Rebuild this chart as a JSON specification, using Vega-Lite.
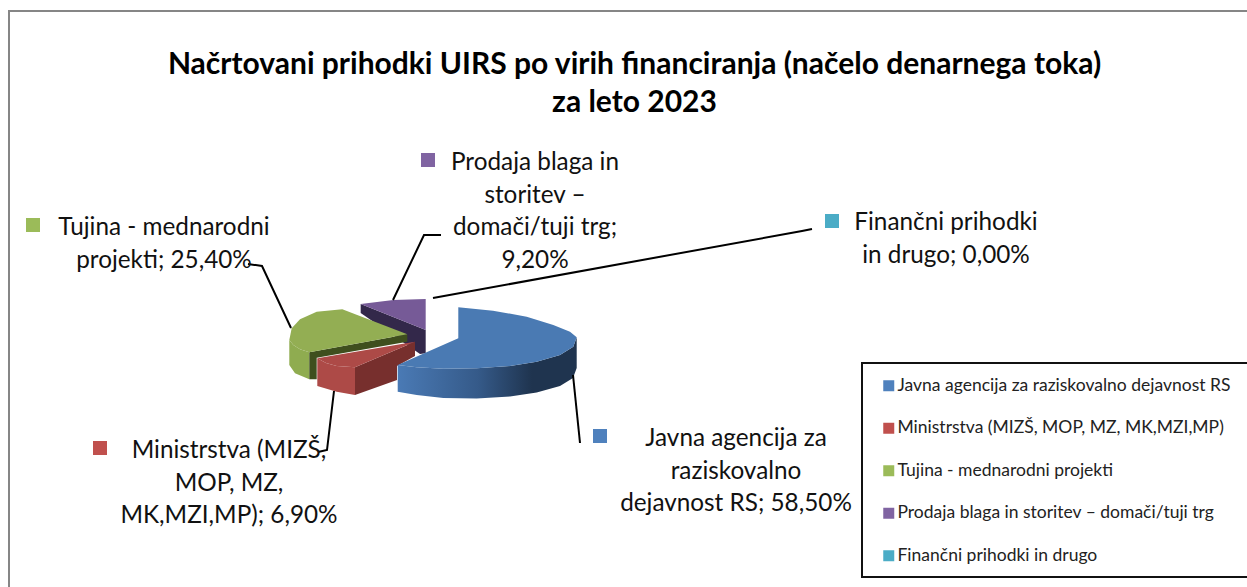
{
"$schema":"https://vega.github.io/schema/vega-lite/v6.json",
"width":1247,"height":587,"autosize":"none","padding":0,"background":"white",
"title":{"text":["Načrtovani prihodki UIRS po virih financiranja (načelo denarnega toka)","za leto 2023"],"font":"Lato","fontWeight":"bold","fontSize":30,"lineHeight":38,"color":"black","anchor":"middle","dx":11,"dy":118,"offset":0},
"config":{"view":{"stroke":null},"font":"Lato"},
"datasets":{
"slices":[
{"series":"Javna agencija za raziskovalno dejavnost RS","value":58.5,"label":"Javna agencija za\nraziskovalno\ndejavnost RS; 58,50%","labelX":736,"labelY":439,"keyX":600,"keyY":436},
{"series":"Ministrstva (MIZŠ, MOP, MZ, MK,MZI,MP)","value":6.9,"label":"Ministrstva (MIZŠ,\nMOP, MZ,\nMK,MZI,MP); 6,90%","labelX":229,"labelY":451,"keyX":100,"keyY":448},
{"series":"Tujina - mednarodni projekti","value":25.4,"label":"Tujina - mednarodni\nprojekti; 25,40%","labelX":164,"labelY":228,"keyX":33,"keyY":225},
{"series":"Prodaja blaga in storitev – domači/tuji trg","value":9.2,"label":"Prodaja blaga in\nstoritev –\ndomači/tuji trg;\n9,20%","labelX":535,"labelY":163,"keyX":428,"keyY":160},
{"series":"Finančni prihodki in drugo","value":0,"label":"Finančni prihodki\nin drugo; 0,00%","labelX":946,"labelY":223,"keyX":832,"keyY":221}
],
"frame":[{"k":"f","x":9,"y":587,"i":0},{"k":"f","x":9,"y":11,"i":1},{"k":"f","x":1247,"y":11,"i":2}],
"legendBox":[{"x":1260,"y":363,"i":0},{"x":862,"y":363,"i":1},{"x":862,"y":577,"i":2},{"x":1260,"y":577,"i":3}],
"leaders":[
{"k":"a","i":0,"x":248,"y":264},{"k":"a","i":1,"x":262,"y":266},{"k":"a","i":2,"x":291,"y":328},
{"k":"b","i":0,"x":441,"y":235},{"k":"b","i":1,"x":424,"y":235},{"k":"b","i":2,"x":393,"y":300},
{"k":"c","i":0,"x":812,"y":229},{"k":"c","i":1,"x":802,"y":231},{"k":"c","i":2,"x":433,"y":298},
{"k":"d","i":0,"x":318,"y":452},{"k":"d","i":1,"x":327,"y":450},{"k":"d","i":2,"x":334,"y":391},
{"k":"e","i":0,"x":573,"y":375},{"k":"e","i":1,"x":580,"y":443}
],
"polys":[
{"p":"purpleFace","i":0,"x":360.7,"y":304},{"p":"purpleFace","i":1,"x":425.7,"y":330},{"p":"purpleFace","i":2,"x":425.7,"y":353.3},{"p":"purpleFace","i":3,"x":420,"y":354},{"p":"purpleFace","i":4,"x":360.7,"y":313},
{"p":"purpleTop","i":0,"x":360.7,"y":304},{"p":"purpleTop","i":1,"x":393.3,"y":300},{"p":"purpleTop","i":2,"x":425.7,"y":299},{"p":"purpleTop","i":3,"x":425.7,"y":330},
{"p":"greenSide","i":0,"x":289.3,"y":340},{"p":"greenSide","i":1,"x":289.3,"y":365},{"p":"greenSide","i":2,"x":295,"y":373.3},{"p":"greenSide","i":3,"x":309.3,"y":379.3},{"p":"greenSide","i":4,"x":309.3,"y":352.3},{"p":"greenSide","i":5,"x":300,"y":349.3},{"p":"greenSide","i":6,"x":293.3,"y":345},
{"p":"greenFace","i":0,"x":309.3,"y":352.3},{"p":"greenFace","i":1,"x":407.3,"y":334.3},{"p":"greenFace","i":2,"x":407.3,"y":341.7},{"p":"greenFace","i":3,"x":316.7,"y":357.7},{"p":"greenFace","i":4,"x":316.7,"y":379.3},{"p":"greenFace","i":5,"x":309.3,"y":379.3},
{"p":"greenTop","i":0,"x":342.3,"y":309.3},{"p":"greenTop","i":1,"x":316.7,"y":311.7},{"p":"greenTop","i":2,"x":300,"y":319.3},{"p":"greenTop","i":3,"x":291.7,"y":328.3},{"p":"greenTop","i":4,"x":289.3,"y":340},{"p":"greenTop","i":5,"x":293.3,"y":345},{"p":"greenTop","i":6,"x":300,"y":349.3},{"p":"greenTop","i":7,"x":309.3,"y":352.3},{"p":"greenTop","i":8,"x":407.3,"y":334.3},
{"p":"redFace","i":0,"x":355,"y":367.3},{"p":"redFace","i":1,"x":415,"y":341.7},{"p":"redFace","i":2,"x":415,"y":356},{"p":"redFace","i":3,"x":397,"y":366},{"p":"redFace","i":4,"x":397,"y":380},{"p":"redFace","i":5,"x":355,"y":395},
{"p":"redSide","i":0,"x":317.3,"y":358.3},{"p":"redSide","i":1,"x":326,"y":363},{"p":"redSide","i":2,"x":336.7,"y":366},{"p":"redSide","i":3,"x":355,"y":367.3},{"p":"redSide","i":4,"x":355,"y":395},{"p":"redSide","i":5,"x":336.7,"y":391.7},{"p":"redSide","i":6,"x":317.3,"y":386},
{"p":"redTop","i":0,"x":317.3,"y":358.3},{"p":"redTop","i":1,"x":415,"y":341.7},{"p":"redTop","i":2,"x":355,"y":367.3},{"p":"redTop","i":3,"x":336.7,"y":366},{"p":"redTop","i":4,"x":326,"y":363},
{"p":"blueSide","i":0,"x":397.7,"y":365},{"p":"blueSide","i":1,"x":416.7,"y":367.3},{"p":"blueSide","i":2,"x":443.3,"y":368.7},{"p":"blueSide","i":3,"x":476.7,"y":368.3},{"p":"blueSide","i":4,"x":510,"y":366},{"p":"blueSide","i":5,"x":536.7,"y":361.7},{"p":"blueSide","i":6,"x":560,"y":355},{"p":"blueSide","i":7,"x":573.3,"y":346.7},{"p":"blueSide","i":8,"x":576.7,"y":337.3},{"p":"blueSide","i":9,"x":576.7,"y":368},{"p":"blueSide","i":10,"x":573,"y":378},{"p":"blueSide","i":11,"x":560,"y":386},{"p":"blueSide","i":12,"x":536.7,"y":392.5},{"p":"blueSide","i":13,"x":510,"y":396.5},{"p":"blueSide","i":14,"x":476.7,"y":398.5},{"p":"blueSide","i":15,"x":443.3,"y":398},{"p":"blueSide","i":16,"x":416.7,"y":395},{"p":"blueSide","i":17,"x":397.7,"y":391.7},
{"p":"blueTop","i":0,"x":458.3,"y":307.3},{"p":"blueTop","i":1,"x":493,"y":310.7},{"p":"blueTop","i":2,"x":526.7,"y":316.7},{"p":"blueTop","i":3,"x":553.3,"y":325},{"p":"blueTop","i":4,"x":570,"y":331.7},{"p":"blueTop","i":5,"x":576.7,"y":337.3},{"p":"blueTop","i":6,"x":573.3,"y":346.7},{"p":"blueTop","i":7,"x":560,"y":355},{"p":"blueTop","i":8,"x":536.7,"y":361.7},{"p":"blueTop","i":9,"x":510,"y":366},{"p":"blueTop","i":10,"x":476.7,"y":368.3},{"p":"blueTop","i":11,"x":443.3,"y":368.7},{"p":"blueTop","i":12,"x":416.7,"y":367.3},{"p":"blueTop","i":13,"x":397.7,"y":365},{"p":"blueTop","i":14,"x":458.3,"y":338.3}
]
},
"encoding":{
"x":{"field":"x","type":"quantitative","axis":null,"scale":{"domain":[0,1247],"nice":false,"zero":false}},
"y":{"field":"y","type":"quantitative","axis":null,"scale":{"domain":[587,0],"nice":false,"zero":false}},
"order":{"field":"i","type":"quantitative"}
},
"layer":[
{"data":{"name":"frame"},"mark":{"type":"line","stroke":"#868686","strokeWidth":2}},
{"data":{"name":"polys"},"transform":[{"filter":"datum.p==='purpleFace'"}],"mark":{"type":"line","fill":"#33284a","stroke":null}},
{"data":{"name":"polys"},"transform":[{"filter":"datum.p==='purpleTop'"}],"mark":{"type":"line","fill":"#765a97","stroke":null}},
{"data":{"name":"polys"},"transform":[{"filter":"datum.p==='greenSide'"}],"mark":{"type":"line","fill":"#8fac50","stroke":null}},
{"data":{"name":"polys"},"transform":[{"filter":"datum.p==='greenFace'"}],"mark":{"type":"line","fill":"#3f4f1e","stroke":null}},
{"data":{"name":"polys"},"transform":[{"filter":"datum.p==='greenTop'"}],"mark":{"type":"line","fill":"#93ae53","stroke":null}},
{"data":{"name":"polys"},"transform":[{"filter":"datum.p==='redFace'"}],"mark":{"type":"line","fill":"#772f2d","stroke":null}},
{"data":{"name":"polys"},"transform":[{"filter":"datum.p==='redSide'"}],"mark":{"type":"line","fill":"#ad4a47","stroke":null}},
{"data":{"name":"polys"},"transform":[{"filter":"datum.p==='redTop'"}],"mark":{"type":"line","fill":"#ad4a47","stroke":null}},
{"data":{"name":"polys"},"transform":[{"filter":"datum.p==='blueSide'"}],"mark":{"type":"line","stroke":null,"fill":{"gradient":"linear","x1":0,"y1":0,"x2":1,"y2":0,"stops":[{"offset":0,"color":"#4a7ab5"},{"offset":0.45,"color":"#355a89"},{"offset":0.75,"color":"#1f344f"},{"offset":1,"color":"#1f344f"}]}}},
{"data":{"name":"polys"},"transform":[{"filter":"datum.p==='blueTop'"}],"mark":{"type":"line","fill":"#4a7ab3","stroke":null}},
{"data":{"name":"leaders"},"mark":{"type":"line","stroke":"black","strokeWidth":2},"encoding":{"detail":{"field":"k"}}},
{"data":{"name":"legendBox"},"mark":{"type":"line","stroke":"#111","strokeWidth":2,"clip":true}},
{"data":{"name":"slices"},"mark":{"type":"point","filled":true,"shape":"square","size":196,"opacity":1},
 "encoding":{"x":{"field":"keyX","type":"quantitative"},"y":{"field":"keyY","type":"quantitative"},
 "color":{"field":"series","type":"nominal","scale":{"domain":["Javna agencija za raziskovalno dejavnost RS","Ministrstva (MIZŠ, MOP, MZ, MK,MZI,MP)","Tujina - mednarodni projekti","Prodaja blaga in storitev – domači/tuji trg","Finančni prihodki in drugo"],"range":["#4f81bd","#c0504d","#9bbb59","#8064a2","#4bacc6"]},
 "legend":{"title":null,"orient":"none","legendX":880,"legendY":377,"symbolType":"square","symbolSize":121,"symbolOpacity":1,"symbolStrokeWidth":0,"labelFont":"Lato","labelFontSize":17.5,"labelColor":"#222","labelLimit":400,"labelOffset":0,"rowPadding":23.5}}}},
{"data":{"name":"slices"},"mark":{"type":"text","font":"Lato","fontSize":24.3,"lineBreak":"\n","lineHeight":32.5,"align":"center","color":"#111"},
 "encoding":{"x":{"field":"labelX","type":"quantitative"},"y":{"field":"labelY","type":"quantitative"},"text":{"field":"label"}}}
]
}
